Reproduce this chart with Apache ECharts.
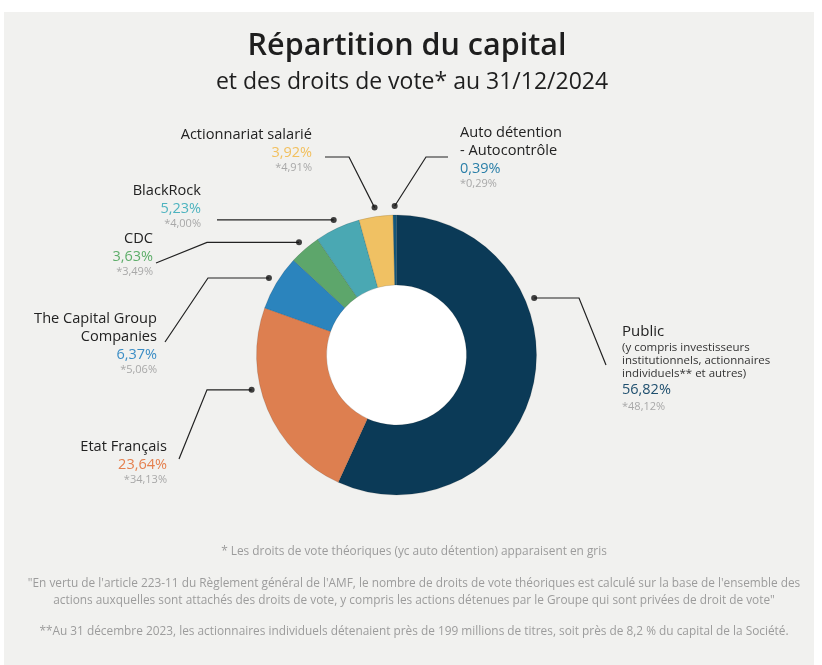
<!DOCTYPE html>
<html><head><meta charset="utf-8">
<script src="https://cdn.jsdelivr.net/npm/echarts@6/dist/echarts.min.js"></script>
<style>html,body{margin:0;padding:0;background:#fff}#c{width:822px;height:665px}</style>
</head><body><div id="c"></div>
<script>
// ---- data ----
const categories = ['Public', 'Etat Français', 'The Capital Group Companies', 'CDC', 'BlackRock', 'Actionnariat salarié', 'Auto détention - Autocontrôle'];
const nameLines = [['Public'], ['Etat Français'], ['The Capital Group', 'Companies'], ['CDC'], ['BlackRock'], ['Actionnariat salarié'], ['Auto détention', '- Autocontrôle']];
const publicNote = ['(y compris investisseurs', 'institutionnels, actionnaires', 'individuels** et autres)'];
const capitalShare = [56.82, 23.64, 6.37, 3.63, 5.23, 3.92, 0.39];
const votingRights = [48.12, 34.13, 5.06, 3.49, 4.00, 4.91, 0.29];
const titleText = 'Répartition du capital';
const subtitleText = 'et des droits de vote* au 31/12/2024';
const footnotes = [
  '* Les droits de vote théoriques (yc auto détention) apparaisent en gris',
  '"En vertu de l\'article 223-11 du Règlement général de l\'AMF, le nombre de droits de vote théoriques est calculé sur la base de l\'ensemble des',
  'actions auxquelles sont attachés des droits de vote, y compris les actions détenues par le Groupe qui sont privées de droit de vote"',
  '**Au 31 décembre 2023, les actionnaires individuels détenaient près de 199 millions de titres, soit près de 8,2 % du capital de la Société.'
];

// ---- styles / layout ----
const FONT = 'Open Sans';
const CX = 396.5, CY = 355, R_IN = 70, R_OUT = 140, R_DOT = 149;
const sliceColors = ['#0b3a57', '#dd7f50', '#2b84bd', '#5da66b', '#4aa8b3', '#f0c163', '#13577a'];
const pctColors = ['#1f4f6e', '#e5804f', '#3b8dc5', '#5eae6a', '#4db3bf', '#f2c05f', '#2a7fa8'];
const labelStyle = [
  { side: 'left',  lx: 622, ly: 323, anchor: 0.33, guide: { type: 'h', bx: 579, ex: 606, ey: 365 } },
  { side: 'right', lx: 167, ly: 438, anchor: 0.61, guide: { type: 'h', bx: 207, ex: 179, ey: 459 } },
  { side: 'right', lx: 157, ly: 310, anchor: 0.5,  guide: { type: 'h', bx: 208, ex: 165, ey: 342 } },
  { side: 'right', lx: 153, ly: 230, anchor: 0.5,  guide: { type: 'h', bx: 207, ex: 156, ey: 263 } },
  { side: 'right', lx: 201, ly: 182, anchor: 0.5,  guide: { type: 's', bx: 217 } },
  { side: 'right', lx: 312, ly: 126, anchor: 0.5,  guide: { type: 'd', bx: 349, ex: 325, ey: 157 } },
  { side: 'left',  lx: 460, ly: 124, anchor: 0.5,  guide: { type: 'd', bx: 426, ex: 448, ey: 157 } }
];

const total = capitalShare.reduce((a, b) => a + b, 0);
const fmt = v => v.toFixed(2).replace('.', ',') + '%';
function anchorValue(i) {
  let before = 0;
  for (let k = 0; k < i; k++) before += capitalShare[k];
  return before + labelStyle[i].anchor * capitalShare[i];
}
function dotPoint(i) {
  const t = anchorValue(i) / total * Math.PI * 2;
  return [CX + R_DOT * Math.sin(t), CY - R_DOT * Math.cos(t)];
}

const pieData = categories.map((name, i) => {
  const al = labelStyle[i].side;
  const lines = nameLines[i].map(s => '{n|' + s + '}');
  if (i === 0) publicNote.forEach(s => lines.push('{s|' + s + '}'));
  lines.push('{p|' + fmt(capitalShare[i]) + '}');
  lines.push('{v|*' + fmt(votingRights[i]) + '}');
  return {
    name: name,
    value: capitalShare[i],
    itemStyle: { color: sliceColors[i] },
    label: {
      formatter: lines.join('\n'),
      rich: {
        n: { fontFamily: FONT, fontSize: i === 0 ? 15 : 14.6, color: '#222', lineHeight: 18, align: al },
        s: { fontFamily: FONT, fontSize: 11.5, color: '#333', lineHeight: 13, align: al },
        p: { fontFamily: FONT, fontSize: 14.5, color: pctColors[i], lineHeight: i === 0 ? 20 : 17, align: al },
        v: { fontFamily: FONT, fontSize: 11, color: '#a8a8a8', lineHeight: 13, align: al }
      }
    }
  };
});

const chart = echarts.init(document.getElementById('c'), null, { renderer: 'canvas' });
const footTops = [547, 579, 596, 627];
chart.setOption({
  backgroundColor: '#ffffff',
  animation: false,
  graphic: [{ type: 'rect', z: -100, silent: true, shape: { x: 4, y: 12, width: 810, height: 660 }, style: { fill: '#f1f1ef' } }],
  title: [
    { text: titleText, left: 402, textAlign: 'center', top: 23, textStyle: { fontFamily: FONT, fontSize: 30.5, fontWeight: 600, color: '#1e1e1e', lineHeight: 36 } },
    { text: subtitleText, left: 407, textAlign: 'center', top: 63, textStyle: { fontFamily: FONT, fontSize: 23, fontWeight: 400, color: '#1e1e1e', lineHeight: 29 } }
  ].concat(footnotes.map((t, k) => ({
    text: t, left: 409, textAlign: 'center', top: footTops[k] - 8,
    textStyle: { fontFamily: FONT, fontSize: 11.85, fontWeight: 400, color: '#9c9c9c', lineHeight: 16 }
  }))),
  polar: { center: [CX, CY], radius: R_DOT },
  angleAxis: { type: 'value', min: 0, max: total, startAngle: 90, clockwise: true, show: false },
  radiusAxis: { type: 'value', min: 0, max: 1, show: false },
  series: [
    {
      type: 'pie', radius: [0, R_IN], center: [CX, CY], silent: true, z: 1,
      label: { show: false }, labelLine: { show: false },
      data: [{ value: 1, itemStyle: { color: '#ffffff' } }]
    },
    {
      type: 'pie', radius: [R_IN, R_OUT], center: [CX, CY], startAngle: 90, clockwise: true,
      avoidLabelOverlap: false, z: 2,
      itemStyle: { borderColor: 'rgba(0,0,0,0.12)', borderWidth: 1 },
      label: { show: true, position: 'outside' },
      labelLine: { show: true, length: 10, length2: 10, smooth: false, lineStyle: { color: '#222', width: 1.2 } },
      labelLayout: function (p) {
        const i = p.dataIndex, st = labelStyle[i], g = st.guide, d = dotPoint(i);
        let pts;
        if (g.type === 'h') pts = [d, [g.bx, d[1]], [g.ex, g.ey]];
        else if (g.type === 'd') pts = [d, [g.bx, g.ey], [g.ex, g.ey]];
        else pts = [d, [g.bx, d[1]]];
        return { x: st.lx, y: st.ly, align: st.side, verticalAlign: 'top', labelLinePoints: pts };
      },
      data: pieData
    },
    {
      type: 'scatter', coordinateSystem: 'polar', symbol: 'circle', symbolSize: 6, z: 5, silent: true,
      itemStyle: { color: '#111' },
      data: categories.map((c, i) => [1, anchorValue(i)])
    }
  ]
});
</script></body></html>
